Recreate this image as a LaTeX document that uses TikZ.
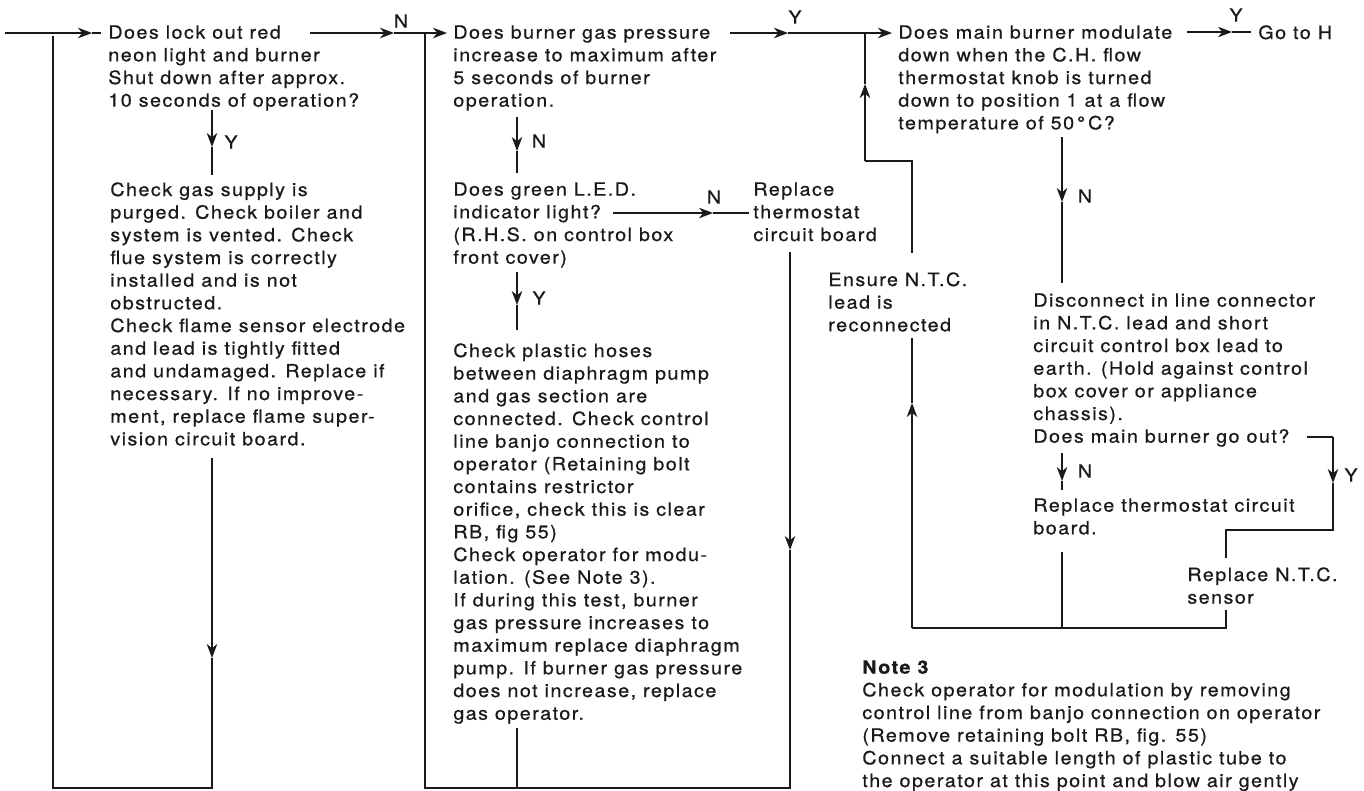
\documentclass[tikz,border=0pt]{standalone}
\usepackage{fontspec}
\setmainfont{TeX Gyre Heros}[LetterSpace=8, FakeStretch=1.08, FakeBold=0.6]
\usetikzlibrary{arrows.meta}
\definecolor{ScanInk}{HTML}{1A1A1A}
\definecolor{ScanPaper}{HTML}{FFFFFF}
\tikzset{
    flowtext/.style={
        anchor=north west,
        align=left,
        inner sep=0pt,
        text=ScanInk,
        font=\fontsize{10.4pt}{12.9pt}\selectfont
    },
    yn/.style={
        inner sep=0pt,
        text=ScanInk,
        font=\fontsize{10.4pt}{12.9pt}\selectfont
    },
    link/.style={
        line width=0.8pt,
        ScanInk
    },
    arrow/.style={
        -{Stealth[length=8pt,width=6pt,inset=2.5pt]},
        line width=0.8pt,
        ScanInk
    }
}

\begin{document}
\begin{tikzpicture}[x=0.2mm, y=-0.2mm]
    \fill[ScanPaper] (0,0) rectangle (1364,790);
    \useasboundingbox (0,0) rectangle (1364,790);

    % Left column
    \node[flowtext] (q1) at (108,25) {Does lock out red\\neon light and burner\\Shut down after approx.\\10 seconds of operation?};
    \node[flowtext] (a1) at (110,182) {Check gas supply is\\purged. Check boiler and\\system is vented. Check\\flue system is correctly\\installed and is not\\obstructed.\\Check flame sensor electrode\\and lead is tightly fitted\\and undamaged. Replace if\\necessary. If no improve-\\ment, replace flame super-\\vision circuit board.};

    % Middle column
    \node[flowtext] (q2) at (453,25) {Does burner gas pressure\\increase to maximum after\\5 seconds of burner\\operation.};
    \node[flowtext] (q3) at (453,182) {Does green L.E.D.\\indicator light?\\(R.H.S. on control box\\front cover)};
    \node[flowtext] (r1) at (753,182) {Replace\\thermostat\\circuit board};
    \node[flowtext] (a3) at (453,343) {Check plastic hoses\\between diaphragm pump\\and gas section are\\connected. Check control\\line banjo connection to\\operator (Retaining bolt\\contains restrictor\\orifice, check this is clear\\RB, fig 55)\\Check operator for modu-\\lation. (See Note 3).\\If during this test, burner\\gas pressure increases to\\maximum replace diaphragm\\pump. If burner gas pressure\\does not increase, replace\\gas operator.};

    % Right column
    \node[flowtext] (q4) at (898,25) {Does main burner modulate\\down when the C.H. flow\\thermostat knob is turned\\down to position 1 at a flow\\temperature of 50\,°\,C?};
    \node[flowtext] (goh) at (1258,25) {Go to H};
    \node[flowtext] (ens) at (828,272) {Ensure N.T.C.\\lead is\\reconnected};
    \node[flowtext] (dis) at (1033,293) {Disconnect in line connector\\in N.T.C. lead and short\\circuit control box lead to\\earth. (Hold against control\\box cover or appliance\\chassis).\\Does main burner go out?};
    \node[flowtext] (rtb) at (1033,498) {Replace thermostat circuit\\board.};
    \node[flowtext] (rntc) at (1187,567) {Replace N.T.C.\\sensor};
    \node[flowtext] (note) at (862,660) {\textbf{Note 3}\\Check operator for modulation by removing\\control line from banjo connection on operator\\(Remove retaining bolt RB, fig. 55)\\Connect a suitable length of plastic tube to\\the operator at this point and blow air gently};

    % Y / N labels
    \node[yn] (lblN1) at (401,21) {N};
    \node[yn] (lblY1) at (231,142) {Y};
    \node[yn] (lblY2) at (795,17) {Y};
    \node[yn] (lblN2) at (539,141) {N};
    \node[yn] (lblN3) at (714,197) {N};
    \node[yn] (lblY3) at (539,298) {Y};
    \node[yn] (lblY4) at (1236,15) {Y};
    \node[yn] (lblN4) at (1085,196) {N};
    \node[yn] (lblN5) at (1085,471) {N};
    \node[yn] (lblY5) at (1351,475) {Y};

    % Junctions and ends
    \coordinate (entry) at (5,33);
    \coordinate (entryTip) at (92,33);
    \coordinate (q1In) at (101,33);
    \coordinate (q1Out) at (310,33);
    \coordinate (q1Tip) at (394,33);
    \coordinate (jn2) at (425,33);
    \coordinate (q2Tip) at (447,33);
    \coordinate (q1Down) at (212,110);
    \coordinate (q1DownTip) at (212,147);
    \coordinate (a1Top) at (212,175);
    \coordinate (a1Bot) at (212,458);
    \coordinate (a1Tip) at (212,658);
    \coordinate (a1Corner) at (212,788);
    \coordinate (leftCorner) at (53,788);
    \coordinate (leftTop) at (53,36);

    \coordinate (q2Out) at (730,33);
    \coordinate (q2Tip2) at (788,33);
    \coordinate (jy3) at (865,33);
    \coordinate (q4Tip) at (892,33);
    \coordinate (q2Down) at (517,117);
    \coordinate (q2DownTip) at (517,151);
    \coordinate (q3Top) at (517,173);
    \coordinate (q3Out) at (613,213);
    \coordinate (q3Tip) at (713,213);
    \coordinate (r1In) at (749,213);
    \coordinate (q3Down) at (517,272);
    \coordinate (q3DownTip) at (517,305);
    \coordinate (a3Top) at (517,330);
    \coordinate (a3Bot) at (517,728);
    \coordinate (a3Join) at (517,788);
    \coordinate (r1Bot) at (790,252);
    \coordinate (r1Tip) at (790,550);
    \coordinate (midRight) at (790,788);
    \coordinate (midLeft) at (425,788);

    \coordinate (ensTop) at (912,253);
    \coordinate (ensCorner) at (912,161);
    \coordinate (loopCorner) at (865,161);
    \coordinate (loopTip) at (865,84);
    \coordinate (ensBot) at (912,338);
    \coordinate (ensTip) at (912,403);
    \coordinate (botLeft) at (912,628);
    \coordinate (botRight) at (1226,628);
    \coordinate (rntcBot) at (1226,610);
    \coordinate (rntcTop) at (1226,558);
    \coordinate (yCorner) at (1226,530);
    \coordinate (yBend) at (1333,530);
    \coordinate (yTip) at (1333,483);
    \coordinate (yTop) at (1333,437);
    \coordinate (disOut) at (1307,437);
    \coordinate (rtbBot) at (1062,552);
    \coordinate (rtbJoin) at (1062,628);
    \coordinate (q4Down) at (1062,137);
    \coordinate (q4DownTip) at (1062,202);
    \coordinate (disTop) at (1062,283);
    \coordinate (disDown) at (1062,453);
    \coordinate (disDownTip) at (1062,481);
    \coordinate (rtbTop) at (1062,490);
    \coordinate (q4Out) at (1187,32);
    \coordinate (q4OutTip) at (1232,32);
    \coordinate (gohIn) at (1251,32);

    % Left column lines
    \draw[arrow] (entry) -- (entryTip);
    \draw[link] (entryTip) -- (q1In);
    \draw[arrow] (q1Down) -- (q1DownTip);
    \draw[link] (q1DownTip) -- (a1Top);
    \draw[arrow] (a1Bot) -- (a1Tip);
    \draw[link] (a1Tip) -- (a1Corner) -- (leftCorner) -- (leftTop);
    \draw[arrow] (q1Out) -- (q1Tip);
    \draw[link] (q1Tip) -- (jn2);
    \draw[arrow] (jn2) -- (q2Tip);

    % Middle column lines
    \draw[arrow] (q2Down) -- (q2DownTip);
    \draw[link] (q2DownTip) -- (q3Top);
    \draw[arrow] (q3Out) -- (q3Tip);
    \draw[link] (q3Tip) -- (r1In);
    \draw[arrow] (q3Down) -- (q3DownTip);
    \draw[link] (q3DownTip) -- (a3Top);
    \draw[link] (a3Bot) -- (a3Join);
    \draw[arrow] (r1Bot) -- (r1Tip);
    \draw[link] (r1Tip) -- (midRight) -- (midLeft) -- (jn2);
    \draw[arrow] (q2Out) -- (q2Tip2);
    \draw[link] (q2Tip2) -- (jy3);
    \draw[arrow] (jy3) -- (q4Tip);

    % Right column lines
    \draw[arrow] (q4Out) -- (q4OutTip);
    \draw[link] (q4OutTip) -- (gohIn);
    \draw[arrow] (q4Down) -- (q4DownTip);
    \draw[link] (q4DownTip) -- (disTop);
    \draw[arrow] (disDown) -- (disDownTip);
    \draw[link] (disDownTip) -- (rtbTop);
    \draw[link] (disOut) -- (yTop);
    \draw[arrow] (yTop) -- (yTip);
    \draw[link] (yTip) -- (yBend) -- (yCorner) -- (rntcTop);
    \draw[link] (rntcBot) -- (botRight) -- (botLeft);
    \draw[arrow] (botLeft) -- (ensTip);
    \draw[link] (ensTip) -- (ensBot);
    \draw[link] (rtbBot) -- (rtbJoin);
    \draw[link] (ensTop) -- (ensCorner) -- (loopCorner);
    \draw[arrow] (loopCorner) -- (loopTip);
    \draw[link] (loopTip) -- (jy3);
\end{tikzpicture}
\end{document}
